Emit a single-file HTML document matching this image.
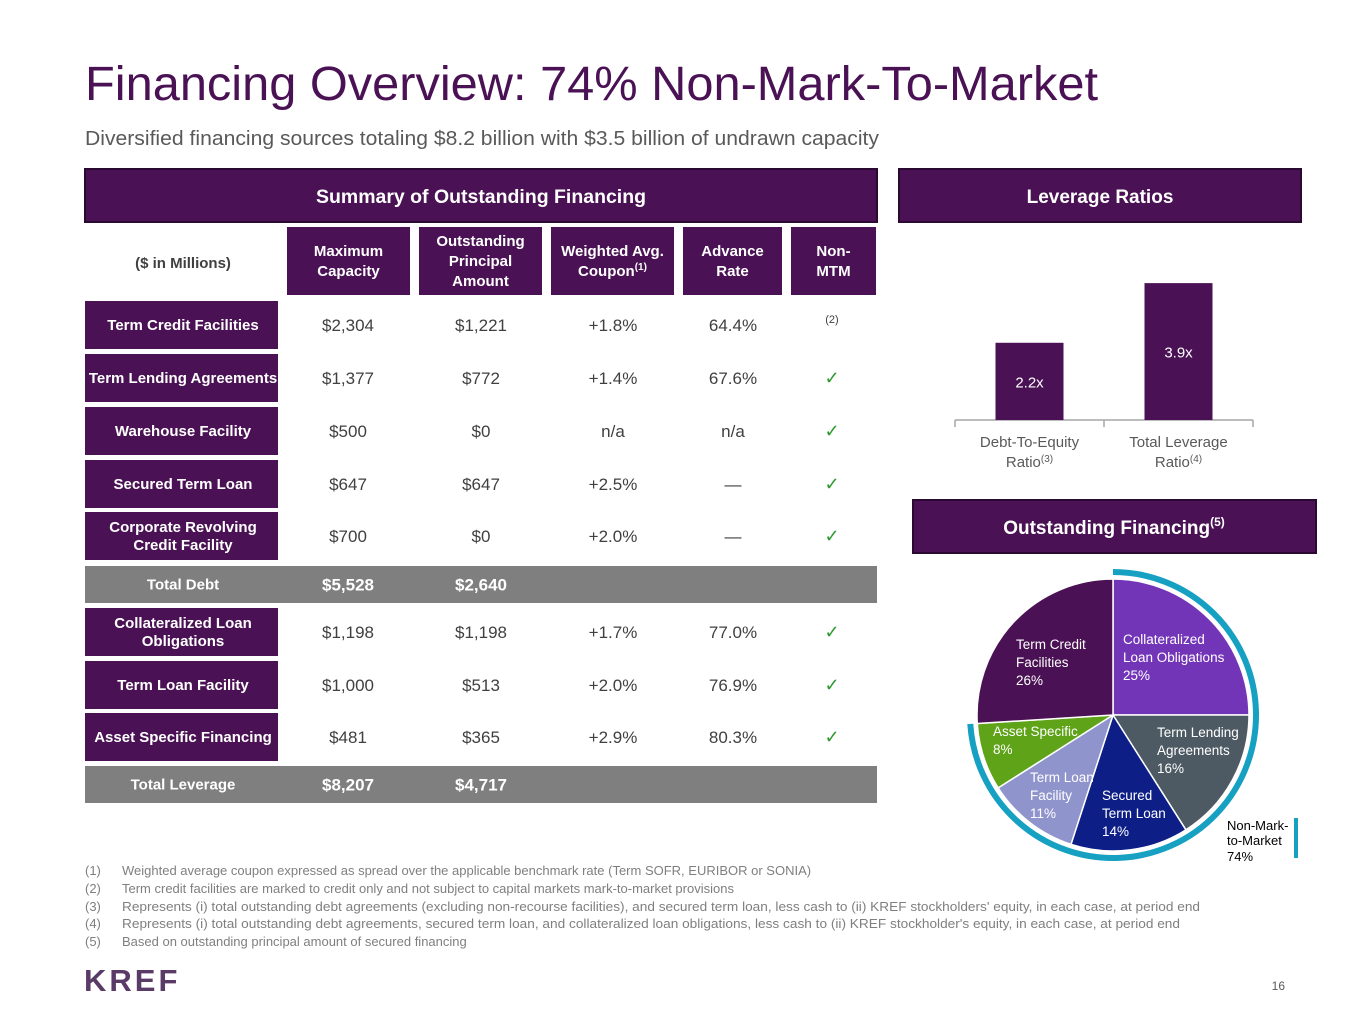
<!DOCTYPE html>
<html><head><meta charset="utf-8">
<style>
body{margin:0;background:#fff;}
svg{display:block;font-family:"Liberation Sans",sans-serif;}
</style></head>
<body>
<svg id="page" width="1365" height="1024" viewBox="0 0 1365 1024" xmlns="http://www.w3.org/2000/svg">
<rect width="1365" height="1024" fill="#fff"/>
<text x="85" y="100" font-size="48" fill="#4a1254" textLength="1013" lengthAdjust="spacingAndGlyphs">Financing Overview: 74% Non-Mark-To-Market</text>
<text x="85" y="145" font-size="20" fill="#595959" textLength="794" lengthAdjust="spacingAndGlyphs">Diversified financing sources totaling $8.2 billion with $3.5 billion of undrawn capacity</text>

<g>
<rect x="85" y="169" width="792" height="53" fill="#4a1254" stroke="#2a0a30" stroke-width="2"/>
<text x="481" y="203" font-size="19" font-weight="bold" fill="#fff" text-anchor="middle" textLength="330" lengthAdjust="spacingAndGlyphs">Summary of Outstanding Financing</text>
<text x="183" y="268" font-size="15" font-weight="bold" fill="#404040" text-anchor="middle">($ in Millions)</text>
<g id="hdrs"></g>
<g id="rows"></g>
</g>

<rect x="899" y="169" width="402" height="53" fill="#4a1254" stroke="#2a0a30" stroke-width="2"/>
<text x="1100" y="203" font-size="19" font-weight="bold" fill="#fff" text-anchor="middle">Leverage Ratios</text>
<g id="bars"></g>

<rect x="913" y="500" width="403" height="53" fill="#4a1254" stroke="#2a0a30" stroke-width="2"/>
<text x="1114" y="534" font-size="19" font-weight="bold" fill="#fff" text-anchor="middle">Outstanding Financing<tspan font-size="12" dy="-8">(5)</tspan></text>
<g id="pie"></g>
<rect x="1294" y="818" width="4" height="40" fill="#16a0c2"/>
<text font-size="13" fill="#000"><tspan x="1227" y="830">Non-Mark-</tspan><tspan x="1227" y="845">to-Market</tspan><tspan x="1227" y="861">74%</tspan></text>

<g font-size="13" fill="#7f7f7f">
<text x="85" y="875">(1)</text><text x="122" y="875">Weighted average coupon expressed as spread over the applicable benchmark rate (Term SOFR, EURIBOR or SONIA)</text>
<text x="85" y="893">(2)</text><text x="122" y="893">Term credit facilities are marked to credit only and not subject to capital markets mark-to-market provisions</text>
<text x="85" y="911">(3)</text><text x="122" y="911" textLength="1078" lengthAdjust="spacingAndGlyphs">Represents (i) total outstanding debt agreements (excluding non-recourse facilities), and secured term loan, less cash to (ii) KREF stockholders' equity, in each case, at period end</text>
<text x="85" y="928">(4)</text><text x="122" y="928" textLength="1058" lengthAdjust="spacingAndGlyphs">Represents (i) total outstanding debt agreements, secured term loan, and collateralized loan obligations, less cash to (ii) KREF stockholder's equity, in each case, at period end</text>
<text x="85" y="946">(5)</text><text x="122" y="946">Based on outstanding principal amount of secured financing</text>
</g>
<text x="84" y="991" font-size="31" font-weight="bold" fill="#5a3a66" letter-spacing="3">KREF</text>
<text x="1285" y="990" font-size="12" fill="#595959" text-anchor="end">16</text>
</svg>
<script>
const NS="http://www.w3.org/2000/svg";
function mk(t,a,p,txt){const e=document.createElementNS(NS,t);for(const k in a)e.setAttribute(k,a[k]);if(txt!==undefined)e.textContent=txt;p.appendChild(e);return e;}
// ---- table data
const colHeaders=[["Maximum","Capacity"],["Outstanding","Principal","Amount"],["Weighted Avg.","Coupon"],["Advance","Rate"],["Non-","MTM"]];
const rowLabels=[["Term Credit Facilities"],["Term Lending Agreements"],["Warehouse Facility"],["Secured Term Loan"],["Corporate Revolving","Credit Facility"],["Total Debt"],["Collateralized Loan","Obligations"],["Term Loan Facility"],["Asset Specific Financing"],["Total Leverage"]];
const maxCapacity=["$2,304","$1,377","$500","$647","$700","$5,528","$1,198","$1,000","$481","$8,207"];
const outstanding=["$1,221","$772","$0","$647","$0","$2,640","$1,198","$513","$365","$4,717"];
const coupon=["+1.8%","+1.4%","n/a","+2.5%","+2.0%","","+1.7%","+2.0%","+2.9%",""];
const advance=["64.4%","67.6%","n/a","—","—","","77.0%","76.9%","80.3%",""];
const nonMtm=["(2)","✓","✓","✓","✓","","✓","✓","✓",""];
const isTotal=[0,0,0,0,0,1,0,0,0,1];
const hx=[[287,123],[419,123],[551,123],[683,99],[791,85]];
const hg=document.getElementById('hdrs');
colHeaders.forEach((h,i)=>{
  const r=mk('rect',{x:hx[i][0],y:227,width:hx[i][1],height:68,fill:'#4a1254'},hg);
  
  
  const cx=hx[i][0]+hx[i][1]/2, n=h.length, y0=261-(n-1)*10+5;
  h.forEach((l,j)=>{const t=mk('text',{x:cx,y:y0+j*20,'font-size':15,'font-weight':'bold',fill:'#fff','text-anchor':'middle'},hg,l);
    if(i===3-1+0&&false){} if(i===2&&j===1){const s=mk('tspan',{'font-size':10,dy:-6},t,'(1)');}});
});
const rowTops=[301,354,407,460,512,566,608,661,713,766];
const cols=[348,481,613,733,832];
const rg=document.getElementById('rows');
rowTops.forEach((y,i)=>{
  const g=mk('g',{},rg);
  
  
  let h, cy;
  if(isTotal[i]){h=37;mk('rect',{x:85,y:y,width:792,height:h,fill:'#7f7f7f'},g);}
  else {h=48;mk('rect',{x:85,y:y,width:193,height:h,fill:'#4a1254'},g);}
  cy=y+h/2;
  const lab=rowLabels[i];
  lab.forEach((l,j)=>mk('text',{x:183,y:cy+5+(j-(lab.length-1)/2)*18,'font-size':15,'font-weight':'bold',fill:'#fff','text-anchor':'middle'},g,l));
  const vals=[maxCapacity[i],outstanding[i],coupon[i],advance[i],nonMtm[i]];
  vals.forEach((v,k)=>{
    if(!v)return;
    if(k===4){
      if(v==='✓')mk('text',{x:cols[k],y:cy+6,'font-size':18,fill:'#2e9a2e','text-anchor':'middle'},g,v);
      else mk('text',{x:cols[k],y:cy-2,'font-size':11,fill:'#404040','text-anchor':'middle'},g,v);
      return;}
    mk('text',{x:cols[k],y:cy+6,'font-size':17,fill:isTotal[i]?'#fff':'#404040','font-weight':isTotal[i]?'bold':'normal','text-anchor':'middle'},g,v);
  });
});
// ---- bar chart
const barLabels=[["Debt-To-Equity","Ratio","(3)"],["Total Leverage","Ratio","(4)"]];
const barValues=[2.2,3.9];
const bg=document.getElementById('bars');
const base=420, perUnit=35.1, axL=955, axR=1253, band=(axR-axL)/barValues.length, bw=68;
mk('line',{x1:axL,y1:base,x2:axR,y2:base,stroke:'#a6a6a6','stroke-width':1.5},bg);
for(let i=0;i<=barValues.length;i++)mk('line',{x1:axL+i*band,y1:base,x2:axL+i*band,y2:base+7,stroke:'#a6a6a6','stroke-width':1.5},bg);
barValues.forEach((v,i)=>{
  const cx=axL+band*(i+0.5), h=v*perUnit;
  const r=mk('rect',{x:cx-bw/2,y:base-h,width:bw,height:h,fill:'#4a1254'},bg);
  
  
  mk('text',{x:cx,y:base-h/2+6,'font-size':15,fill:'#fff','text-anchor':'middle'},bg,v.toFixed(1)+'x');
  const t1=mk('text',{x:cx,y:447,'font-size':15,fill:'#595959','text-anchor':'middle'},bg,barLabels[i][0]);
  const t2=mk('text',{x:cx,y:467,'font-size':15,fill:'#595959','text-anchor':'middle'},bg,barLabels[i][1]);
  mk('tspan',{'font-size':10,dy:-5},t2,barLabels[i][2]);
});
// ---- pie
const pieLabels=[["Collateralized","Loan Obligations"],["Term Lending","Agreements"],["Secured","Term Loan"],["Term Loan","Facility"],["Asset Specific"],["Term Credit","Facilities"]];
const pieValues=[25,16,14,11,8,26];
const pieMtmFlag=[1,1,1,1,1,0];
const pieColors=['#7335b8','#4d5a63','#0d1f87','#9094cc','#5fa319','#4a1254'];
const pg=document.getElementById('pie');
const cx=1113, cy=715, R=136;
const total=pieValues.reduce((a,b)=>a+b,0);
function pt(a,r){return [cx+r*Math.sin(a),cy-r*Math.cos(a)];}
let acc=0, nonMtmEnd=0;
const labelPos=[[1123,644],[1157,737],[1102,800],[1030,782],[993,736],[1016,649]];
pieValues.forEach((v,i)=>{
  const a0=acc/total*2*Math.PI; acc+=v; const a1=acc/total*2*Math.PI;
  const p0=pt(a0,R),p1=pt(a1,R);
  const path=mk('path',{d:`M${cx},${cy}L${p0[0]},${p0[1]}A${R},${R} 0 ${a1-a0>Math.PI?1:0} 1 ${p1[0]},${p1[1]}Z`,fill:pieColors[i],stroke:'#fff','stroke-width':1.5},pg);
  
  
  if(pieMtmFlag[i])nonMtmEnd=acc;
  const lp=labelPos[i], lines=pieLabels[i].concat([v+'%']);
  lines.forEach((l,j)=>mk('text',{x:lp[0],y:lp[1]+j*18,'font-size':13.5,fill:'#fff'},pg,l));
});
const ra=R+7, e=nonMtmEnd/total*2*Math.PI, s0=pt(0,ra), s1=pt(e,ra);
const arc=mk('path',{d:`M${s0[0]},${s0[1]}A${ra},${ra} 0 ${e>Math.PI?1:0} 1 ${s1[0]},${s1[1]}`,fill:'none',stroke:'#16a0c2','stroke-width':6},pg);


</script>
</body></html>
